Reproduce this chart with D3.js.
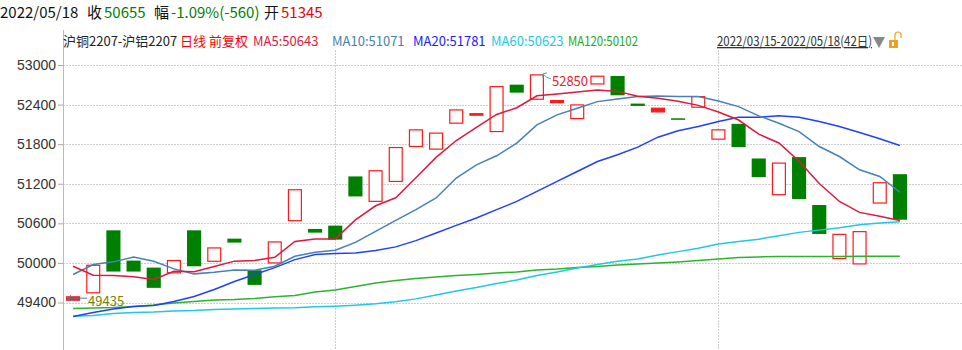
<!DOCTYPE html>
<html>
  <head>
    <meta charset="utf-8" />
    <title>沪铜2207-沪铝2207 日线</title>
    <style>
      body {
        margin: 0;
        background: #fff;
      }
      svg {
        display: block;
        font-family: "Microsoft YaHei", "Noto Sans CJK SC", sans-serif;
      }
      .grid line {
        stroke: #cdcdcd;
        stroke-dasharray: 2 1;
      }
      .ma {
        fill: none;
        stroke-width: 1.5px;
      }
      .y-axis .domain {
        display: none;
      }
      .y-axis line {
        stroke: #aaa;
      }
      .y-axis text {
        font-size: 14px;
        fill: #333;
      }
    </style>
  </head>
  <body>
    <svg id="chart"></svg>

    <script src="https://d3js.org/d3.v7.min.js"></script>
    <script>
      // trading days 2022/03/15 - 2022/05/18 (42 days)
      const dates = [
        "2022/03/15", "2022/03/16", "2022/03/17", "2022/03/18", "2022/03/21",
        "2022/03/22", "2022/03/23", "2022/03/24", "2022/03/25", "2022/03/28",
        "2022/03/29", "2022/03/30", "2022/03/31", "2022/04/01", "2022/04/06",
        "2022/04/07", "2022/04/08", "2022/04/11", "2022/04/12", "2022/04/13",
        "2022/04/14", "2022/04/15", "2022/04/18", "2022/04/19", "2022/04/20",
        "2022/04/21", "2022/04/22", "2022/04/25", "2022/04/26", "2022/04/27",
        "2022/04/28", "2022/04/29", "2022/05/05", "2022/05/06", "2022/05/09",
        "2022/05/10", "2022/05/11", "2022/05/12", "2022/05/13", "2022/05/16",
        "2022/05/17", "2022/05/18"
      ];

      const opens = [
        49435, 49547, 50494, 50035, 49929, 49849, 50494, 50025, 50368, 49889,
        50000, 50640, 50515, 50565, 51311, 50933, 51235, 51765, 51725, 52118,
        52255, 51991, 52702, 52481, 52430, 52188, 52713, 52834, 52415, 52289,
        52192, 52360, 51876, 52108, 51583, 51034, 51604, 50878, 50066, 49985,
        50908, 51345
      ];
      const closes = [
        49486, 49964, 49869, 49869, 49622, 50035, 49949, 50227, 50308, 49667,
        50318, 51109, 50459, 50353, 51008, 51397, 51749, 52017, 51967, 52319,
        52262, 52672, 52581, 52850, 52460, 52395, 52830, 52541, 52380, 52345,
        52180, 52521, 52017, 51755, 51301, 51513, 50969, 50439, 50433, 50474,
        51215, 50655
      ];

      const ma5 = [
        49949, 49813, 49808, 49789, 49750, 49872, 49865, 49945, 50027, 50036,
        50085, 50326, 50364, 50364, 50652, 50866, 50988, 51290, 51600, 51855,
        52055, 52250, 52352, 52534, 52561, 52590, 52622, 52600, 52528, 52497,
        52450, 52388, 52287, 52166, 51952, 51818, 51540, 51203, 50931, 50766,
        50706, 50643
      ];
      const ma10 = [
        49824, 49975, 50016, 50091, 50025, 49910, 49834, 49858, 49893, 49889,
        49949, 50100, 50161, 50191, 50312, 50479, 50645, 50807, 50984, 51286,
        51487, 51624, 51816, 52092, 52244, 52345, 52445, 52486, 52521, 52531,
        52521, 52521, 52455, 52369, 52229, 52118, 51991, 51764, 51613, 51412,
        51310, 51071
      ];
      const ma20 = [
        49188, 49249, 49302, 49340, 49355, 49415, 49491, 49597, 49718, 49824,
        49929, 50050, 50126, 50141, 50152, 50187, 50243, 50338, 50454, 50569,
        50681, 50807, 50932, 51084, 51235, 51386, 51537, 51639, 51755, 51906,
        52002, 52067, 52142, 52209, 52209, 52229, 52209, 52142, 52067, 51976,
        51881, 51781
      ];
      const ma60 = [
        49193, 49203, 49234, 49249, 49256, 49271, 49279, 49294, 49302, 49309,
        49317, 49320, 49335, 49345, 49360, 49380, 49410, 49455, 49515, 49575,
        49627, 49687, 49740, 49808, 49861, 49922, 49975, 50025, 50058, 50119,
        50171, 50224, 50285, 50323, 50360, 50413, 50463, 50497, 50534, 50580,
        50606, 50623
      ];
      const ma120 = [
        49309, 49317, 49324, 49340, 49362, 49392, 49415, 49438, 49445, 49461,
        49486, 49506, 49559, 49589, 49642, 49695, 49733, 49763, 49786, 49808,
        49824, 49846, 49864, 49892, 49907, 49929, 49945, 49967, 49982, 49997,
        50013, 50035, 50058, 50081, 50091, 50096, 50097, 50098, 50099, 50100,
        50101, 50102
      ];

      const yTicks = [49400, 50000, 50600, 51200, 51800, 52400, 53000];
      const monthStarts = ["2022/04/01", "2022/05/05"];
      const highMark = { date: "2022/04/19", value: 52850 };
      const lowMark = { date: "2022/03/15", value: 49435 };

      const width = 962;
      const height = 350;
      const left = 63;

      const UP = "#ff1a1a";
      const DOWN = "#008000";

      const svg = d3.select("#chart").attr("width", width).attr("height", height);

      const x = d3.scaleBand().domain(dates).range([left, 910]).paddingInner(0.3).paddingOuter(0.15);
      const cx = (d) => x(d) + x.bandwidth() / 2;

      const y = d3.scaleLinear().domain([49400, 53000]).range([302.5, 65]);

      // grid
      const grid = svg.append("g").attr("class", "grid");
      grid
        .selectAll(".h")
        .data(yTicks)
        .join("line")
        .attr("x1", left)
        .attr("x2", width)
        .attr("y1", (d) => Math.round(y(d)) + 0.5)
        .attr("y2", (d) => Math.round(y(d)) + 0.5);
      grid
        .selectAll(".v")
        .data(monthStarts)
        .join("line")
        .attr("x1", (d) => Math.round(cx(d)) + 0.5)
        .attr("x2", (d) => Math.round(cx(d)) + 0.5)
        .attr("y1", 50)
        .attr("y2", height);

      // left axis
      svg
        .append("line")
        .attr("x1", left + 0.5)
        .attr("x2", left + 0.5)
        .attr("y1", 30)
        .attr("y2", height)
        .attr("stroke", "#bbb");
      svg
        .append("g")
        .attr("class", "y-axis")
        .attr("transform", `translate(${left},0)`)
        .call(d3.axisLeft(y).tickValues(yTicks).tickSize(5).tickPadding(2).tickFormat(d3.format("d")));

      // candles
      const candles = svg.append("g");
      dates.forEach((d, i) => {
        const o = opens[i];
        const c = closes[i];
        const top = y(Math.max(o, c));
        const h = Math.max(1.5, Math.abs(y(o) - y(c)));
        if (c >= o) {
          candles
            .append("rect")
            .attr("x", x(d) + 0.6)
            .attr("y", top)
            .attr("width", x.bandwidth() - 1.2)
            .attr("height", h)
            .attr("fill", h < 4 ? UP : "#fff")
            .attr("stroke", UP)
            .attr("stroke-width", 1.2);
        } else {
          candles
            .append("rect")
            .attr("x", x(d))
            .attr("y", top)
            .attr("width", x.bandwidth())
            .attr("height", h)
            .attr("fill", DOWN);
        }
      });

      // moving averages
      const line = d3
        .line()
        .x((d, i) => cx(dates[i]))
        .y((d) => y(d));

      const mas = [
        { name: "MA120", values: ma120, color: "#2db42d", w: 1.8 },
        { name: "MA60", values: ma60, color: "#1ec8e6", w: 1.8 },
        { name: "MA20", values: ma20, color: "#2040ff", w: 1.8 },
        { name: "MA10", values: ma10, color: "#4682b4", w: 1.5 },
        { name: "MA5", values: ma5, color: "#e0183c", w: 1.3 }
      ];
      mas.forEach((m) => {
        svg
          .append("path")
          .datum(m.values)
          .attr("class", "ma")
          .attr("d", line)
          .attr("stroke", m.color)
          .attr("stroke-width", m.w);
      });

      // high / low markers
      const hx = x(highMark.date) + x.bandwidth();
      const hy = y(highMark.value);
      svg
        .append("path")
        .attr("d", `M${hx + 7},${hy + 4} Q${hx + 2},${hy + 3} ${hx - 1},${hy - 1} M${hx - 1},${hy - 1} l4,-1 M${hx - 1},${hy - 1} l0,4`)
        .attr("fill", "none")
        .attr("stroke", "#4aa0c8")
        .attr("stroke-width", 1);
      svg
        .append("text")
        .attr("x", hx + 8)
        .attr("y", hy + 11)
        .attr("font-size", 13)
        .attr("fill", "#e8202a")
        .text(highMark.value);

      const lx = cx(lowMark.date);
      const ly = y(lowMark.value) - 2;
      svg
        .append("path")
        .attr("d", `M${lx + 14},${ly} L${lx - 6},${ly} M${lx - 6},${ly} l4,-3 M${lx - 6},${ly} l4,3`)
        .attr("fill", "none")
        .attr("stroke", "#4682b4")
        .attr("stroke-width", 1);
      svg
        .append("text")
        .attr("x", lx + 15)
        .attr("y", ly + 8)
        .attr("font-size", 13)
        .attr("fill", "#7d8000")
        .text(lowMark.value);

      // header row 1
      const head = svg.append("g").attr("font-size", 15);
      const addText = (g, tx, ty, str, color) =>
        g.append("text").attr("x", tx).attr("y", ty).attr("fill", color).text(str);
      addText(head, 0, 18, "2022/05/18", "#111");
      addText(head, 87, 18, "收", "#111");
      addText(head, 104, 18, "50655", DOWN);
      addText(head, 154, 18, "幅", "#111");
      addText(head, 171, 18, "-1.09%(-560)", DOWN);
      addText(head, 264, 18, "开", "#111");
      addText(head, 281, 18, "51345", "#e00");

      // header row 2 / legend
      const legend = svg.append("g").attr("font-size", 13);
      addText(legend, 63, 46, "沪铜2207-沪铝2207", "#222");
      addText(legend, 180, 46, "日线 前复权", "#f00");
      addText(legend, 253, 46, "MA5:50643", "#e0183c");
      addText(legend, 332, 46, "MA10:51071", "#4682b4");
      addText(legend, 413, 46, "MA20:51781", "#2020ff");
      addText(legend, 491, 46, "MA60:50623", "#1ec8e6");
      addText(legend, 568, 46, "MA120:50102", "#22aa22").attr("textLength", 70).attr("lengthAdjust", "spacingAndGlyphs");
      addText(legend, 717, 46, "2022/03/15-2022/05/18(42日)", "#333")
        .attr("text-decoration", "underline")
        .attr("textLength", 155)
        .attr("lengthAdjust", "spacingAndGlyphs");

      // dropdown triangle and lock icon
      svg.append("path").attr("d", "M873,37 L885,37 L879,48 Z").attr("fill", "#888");
      svg.append("rect").attr("x", 889).attr("y", 40).attr("width", 9).attr("height", 8).attr("fill", "#f0a020");
      svg
        .append("path")
        .attr("d", "M895,40 L895,35 Q895,32 898,32 Q901,32 901,35 L901,38")
        .attr("fill", "none")
        .attr("stroke", "#f0a020")
        .attr("stroke-width", 1.2);
      svg.append("rect").attr("x", 892).attr("y", 42).attr("width", 2).attr("height", 4).attr("fill", "#fff");
    </script>
  </body>
</html>
